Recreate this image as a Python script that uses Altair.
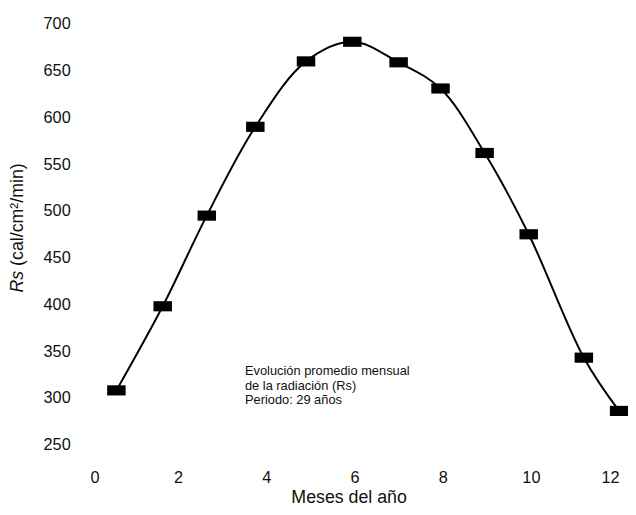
import altair as alt
import pandas as pd

# ---- data ----
months = [0.6, 1.65, 2.65, 3.75, 4.9, 5.95, 7.0, 7.95, 8.95, 9.95, 11.2, 12.0]
rs = [308, 398, 495, 590, 660, 681, 659, 631, 562, 475, 343, 286]
x_ticks = [0, 2, 4, 6, 8, 10, 12]
y_ticks = [250, 300, 350, 400, 450, 500, 550, 600, 650, 700]
x_title = "Meses del año"
y_title_italic = ["Rs"]
y_title_rest = ["(cal/cm²/min)"]
note_lines = ["Evolución promedio mensual\nde la radiación (Rs)\nPeriodo: 29 años"]

FONT = "Liberation Sans"
INK = "#111111"

df = pd.DataFrame({"mes": months, "rs": rs})

x_enc = alt.X(
    "mes:Q",
    scale=alt.Scale(domain=[0, 12], nice=False, zero=False),
    axis=alt.Axis(
        values=x_ticks, title=x_title, labelPadding=25, titlePadding=3,
        labelFontSize=16.5, titleFontSize=18, titleFontWeight="normal",
        labelFont=FONT, titleFont=FONT, labelColor=INK, titleColor=INK,
        domain=False, ticks=False, grid=False, titleX=262,
    ),
)
y_enc = alt.Y(
    "rs:Q",
    scale=alt.Scale(domain=[250, 700], nice=False, zero=False),
    axis=alt.Axis(
        values=y_ticks, title=None, labelPadding=20, labelFontSize=16.5,
        labelFont=FONT, labelColor=INK, domain=False, ticks=False, grid=False,
    ),
)

base = alt.Chart(df)
line = base.mark_line(color="black", strokeWidth=2, interpolate="catmull-rom").encode(x=x_enc, y=y_enc)
pts = base.mark_point(
    shape="M-1,-0.55L1,-0.55L1,0.55L-1,0.55Z", size=350, filled=True,
    color="black", opacity=1,
).encode(x="mes:Q", y="rs:Q")

t1 = alt.Chart(pd.DataFrame({"t": y_title_italic})).mark_text(
    angle=270, align="right", baseline="middle", fontStyle="italic",
    fontSize=18, font=FONT, color=INK,
).encode(x=alt.value(-73), y=alt.value(250), text="t:N")
t2 = alt.Chart(pd.DataFrame({"t": y_title_rest})).mark_text(
    angle=270, align="left", baseline="middle", fontSize=18, font=FONT, color=INK,
    dx=5,
).encode(x=alt.value(-73), y=alt.value(250), text="t:N")

note = alt.Chart(pd.DataFrame({"t": note_lines})).mark_text(
    align="left", baseline="alphabetic", fontSize=13, lineHeight=14.5,
    font=FONT, color=INK, lineBreak="\n",
).encode(x=alt.value(157), y=alt.value(356), text="t:N")

chart = alt.layer(line, pts, t1, t2, note).properties(
    width=536, height=426, autosize="none",
    padding={"left": 83, "top": 13, "right": 9, "bottom": 60},
).configure(background="white").configure_view(strokeWidth=0)

chart.save("out.html", embed_options={"renderer": "svg", "actions": False})
